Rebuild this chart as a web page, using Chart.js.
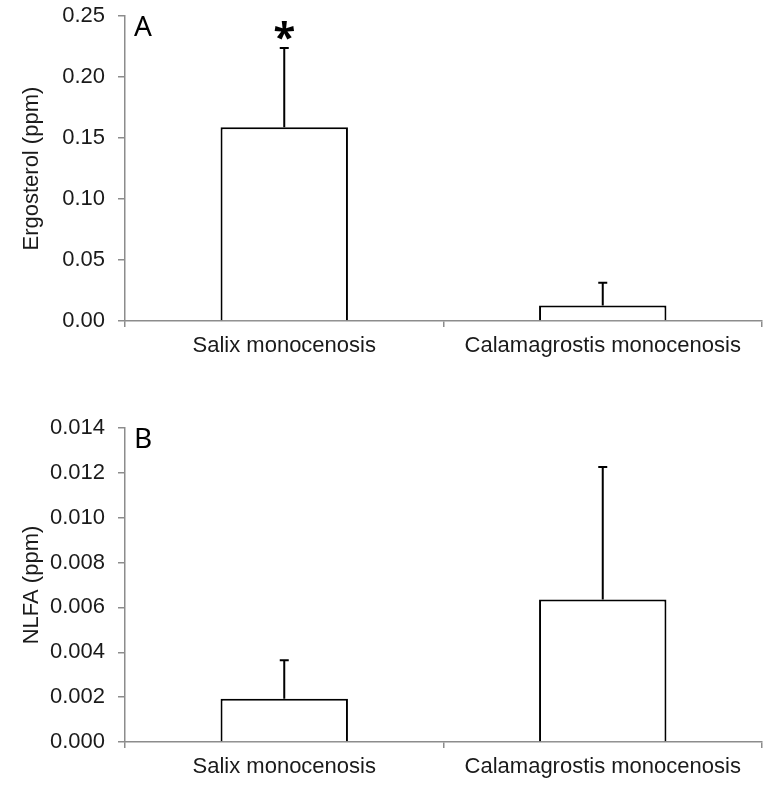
<!DOCTYPE html>
<html>
<head>
<meta charset="utf-8">
<script src="https://cdn.jsdelivr.net/npm/chart.js@4/dist/chart.umd.min.js"></script>
<style>
  body { margin: 0; background: #fff; overflow: hidden; }
  .panel { position: absolute; left: 0; width: 775px; }
  #panelA { top: -10px; height: 370px; }
  #panelB { top: 360px; height: 426px; }
</style>
</head>
<body>
<div class="panel" id="panelA"><canvas id="chartA"></canvas></div>
<div class="panel" id="panelB"><canvas id="chartB"></canvas></div>
<script>
const categories = ["Salix monocenosis", "Calamagrostis monocenosis"];

const ergosterol = [0.159, 0.0128];
const ergosterolErr = [0.065, 0.0185];
const ergosterolMarks = ["*", ""];
const ergosterolTicks = [0, 0.05, 0.1, 0.15, 0.2, 0.25];

const nlfa = [0.00193, 0.00635];
const nlfaErr = [0.00171, 0.00591];
const nlfaMarks = ["", ""];
const nlfaTicks = [0, 0.002, 0.004, 0.006, 0.008, 0.01, 0.012, 0.014];

const axisGrey = "#8c8c8c";
const textColor = "#1a1a1a";
const labelFont = { family: "Liberation Sans, Arial", size: 22 };

// error bars (upper only), significance marks and panel letter
const extrasPlugin = {
  id: "extras",
  afterDatasetsDraw(chart, args, opts) {
    const ctx = chart.ctx;
    const yScale = chart.scales.y;
    const meta = chart.getDatasetMeta(0);
    const values = chart.data.datasets[0].data;
    ctx.save();
    ctx.strokeStyle = "#000";
    ctx.lineWidth = 2;
    meta.data.forEach((bar, i) => {
      const yTop = yScale.getPixelForValue(values[i] + opts.errors[i]);
      ctx.beginPath();
      ctx.moveTo(bar.x, bar.y);
      ctx.lineTo(bar.x, yTop);
      ctx.moveTo(bar.x - 4.5, yTop);
      ctx.lineTo(bar.x + 4.5, yTop);
      ctx.stroke();
      if (opts.marks[i]) {
        ctx.fillStyle = "#000";
        ctx.font = "bold 40px 'Noto Sans'";
        ctx.textAlign = "center";
        ctx.textBaseline = "alphabetic";
        ctx.fillText(opts.marks[i], bar.x, yTop + 3);
      }
    });
    const area = chart.chartArea;
    ctx.fillStyle = "#000";
    ctx.font = "28px 'Noto Sans'";
    ctx.textAlign = "left";
    ctx.textBaseline = "alphabetic";
    ctx.fillText(opts.letter, area.left + 9, area.top + 20);
    ctx.restore();
  },
};

function makeChart(id, values, errors, marks, ticks, digits, title, padTop, xHeight) {
  return new Chart(document.getElementById(id), {
    type: "bar",
    data: {
      labels: categories,
      datasets: [
        {
          data: values,
          backgroundColor: "#fff",
          borderColor: "#000",
          borderWidth: 2,
          categoryPercentage: 1,
          barPercentage: 0.4,
        },
      ],
    },
    options: {
      responsive: true,
      maintainAspectRatio: false,
      animation: false,
      layout: { padding: { top: padTop, right: 13, left: 0, bottom: 0 } },
      plugins: {
        legend: { display: false },
        tooltip: { enabled: false },
        extras: { errors, marks, letter: id === "chartA" ? "A" : "B" },
      },
      scales: {
        x: {
          grid: {
            display: true,
            drawOnChartArea: false,
            offset: true,
            color: axisGrey,
            tickLength: 6,
            lineWidth: 1.5,
          },
          border: { color: axisGrey, width: 1.5 },
          ticks: { color: textColor, font: labelFont, padding: 6, maxRotation: 0 },
          afterFit: (scale) => { scale.height = xHeight; },
        },
        y: {
          min: ticks[0],
          max: ticks[ticks.length - 1],
          afterBuildTicks: (scale) => {
            scale.ticks = ticks.map((v) => ({ value: v }));
          },
          grid: {
            display: true,
            drawOnChartArea: false,
            color: axisGrey,
            tickLength: 7,
            lineWidth: 1.5,
          },
          border: { color: axisGrey, width: 1.5 },
          ticks: {
            color: textColor,
            font: labelFont,
            padding: 13,
            callback: (v) => Number(v).toFixed(digits),
          },
          title: {
            display: true,
            text: title,
            color: textColor,
            font: { family: "Liberation Sans, Arial", size: 22 },
            padding: { top: 19, bottom: 0 },
          },
          afterFit: (scale) => { scale.width = 125; },
        },
      },
    },
    plugins: [extrasPlugin],
  });
}

makeChart("chartA", ergosterol, ergosterolErr, ergosterolMarks, ergosterolTicks, 2,
  "Ergosterol (ppm)", 15, 39);
makeChart("chartB", nlfa, nlfaErr, nlfaMarks, nlfaTicks, 3,
  "NLFA (ppm)", 68, 44);
</script>
</body>
</html>
